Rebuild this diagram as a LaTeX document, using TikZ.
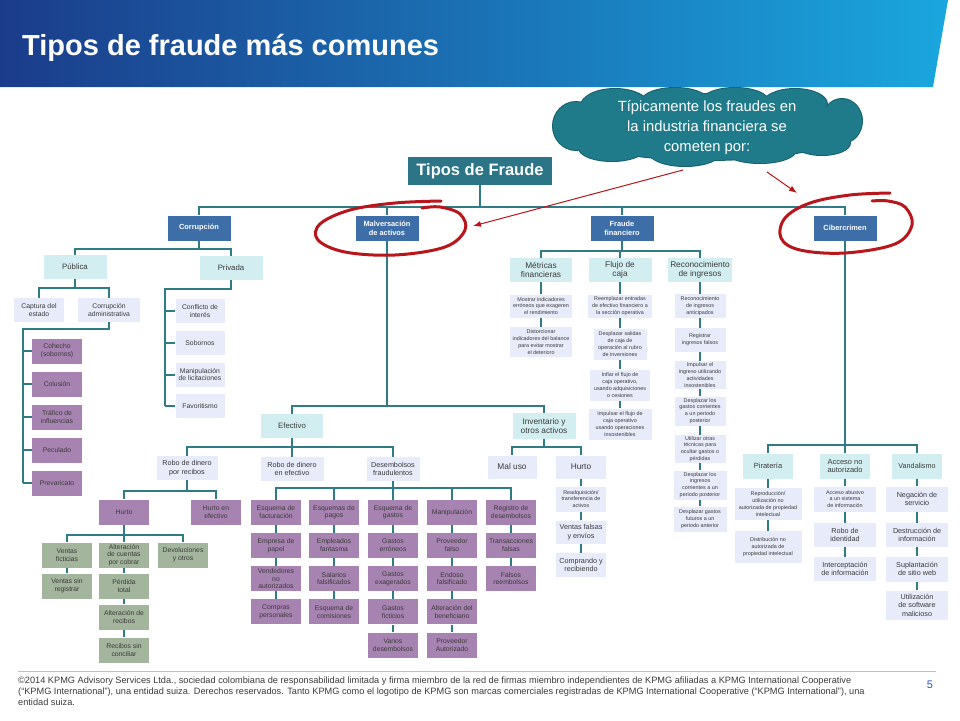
\documentclass[tikz,border=0pt]{standalone}
\usepackage{fontspec}
\setmainfont{Liberation Sans}
\usetikzlibrary{arrows.meta}
\definecolor{cNavy}{HTML}{1B3C8A}
\definecolor{cCielo}{HTML}{1AA6DE}
\definecolor{cRaiz}{HTML}{2B7587}
\definecolor{cAzul}{HTML}{3E6EA8}
\definecolor{cCeleste}{HTML}{D3EEF1}
\definecolor{cLila}{HTML}{E8EBFA}
\definecolor{cMorado}{HTML}{A783B1}
\definecolor{cVerde}{HTML}{A4B59D}
\definecolor{cLinea}{HTML}{2F7C86}
\definecolor{cTexto}{HTML}{3A3A3A}
\definecolor{cNube}{HTML}{1F7A8A}
\definecolor{cNubeBorde}{HTML}{17606D}
\definecolor{cRojo}{HTML}{B8161C}
\definecolor{cGris}{HTML}{C0C0C0}
\definecolor{cNumero}{HTML}{2450D8}

\begin{document}
\begin{tikzpicture}[x=1pt,y=-1pt,
  caja/.style={rectangle,align=center,inner sep=1pt,text=cTexto,font=\fontsize{6.8}{7.8}\selectfont},
  nivel/.style={caja,fill=cAzul,text=white,font=\bfseries\fontsize{7.4}{9}\selectfont,minimum width=63pt,minimum height=25pt},
  celeste/.style={caja,fill=cCeleste,minimum width=63pt,minimum height=24pt,font=\fontsize{7.8}{9}\selectfont},
  lila/.style={caja,fill=cLila,minimum width=50pt,minimum height=24pt},
  morado/.style={caja,fill=cMorado,minimum width=50pt,minimum height=25pt},
  verde/.style={caja,fill=cVerde,minimum width=50pt,minimum height=25pt},
  diminuto/.style={font=\fontsize{5.4}{6.9}\selectfont},
  medio/.style={font=\fontsize{7.2}{8.4}\selectfont},
  grande/.style={font=\fontsize{8.3}{9.6}\selectfont},
  enlace/.style={draw=cLinea,line width=1.8pt},
  flecha/.style={draw=cRojo,line width=1pt,-{Latex[length=8pt,width=6pt]}},
  anillo/.style={draw=cRojo,line width=3pt,line cap=round}]
\useasboundingbox (0,0) rectangle (960,720);
\shade[left color=cNavy,right color=cCielo] (0,0) -- (948,0) -- (933,87) -- (0,87) -- cycle;
\node[anchor=base west,inner sep=0pt,text=white,font=\bfseries\fontsize{29}{32}\selectfont] (titulo) at (22,55) {Tipos de fraude más comunes};

\foreach \cx/\cy/\rx/\ry in {707/127/145/33,576/126/23/24,842/121/20/22,615/106/34/17,675/101/33/13,735/101/33/13,795/104/32/15,612/148/33/13,685/152/36/14,760/150/36/13,822/143/28/12}
  \draw[cNubeBorde,line width=2pt] (\cx,\cy) ellipse[x radius=\rx pt,y radius=\ry pt];
\foreach \cx/\cy/\rx/\ry in {707/127/145/33,576/126/23/24,842/121/20/22,615/106/34/17,675/101/33/13,735/101/33/13,795/104/32/15,612/148/33/13,685/152/36/14,760/150/36/13,822/143/28/12}
  \fill[cNube] (\cx,\cy) ellipse[x radius=\rx pt,y radius=\ry pt];
\node[text=white,align=center,font=\fontsize{14.8}{20}\selectfont] (nota) at (707,128) {Típicamente los fraudes en\\la industria financiera se\\cometen por:};

\node[caja,fill=cRaiz,text=white,font=\bfseries\fontsize{16.5}{18}\selectfont,minimum width=144pt,minimum height=28pt] (raiz) at (480,171) {Tipos de Fraude};
\node[nivel] (corr) at (199,228) {Corrupción};
\node[nivel] (malv) at (387,228) {Malversación\\de activos};
\node[nivel] (ffin) at (622,228) {Fraude\\financiero};
\node[nivel] (ciber) at (845,228) {Cibercrimen};

\node[celeste] (pub) at (75,267) {Pública};
\node[celeste] (priv) at (231,268) {Privada};
\node[lila] (capt) at (39,310) {Captura del\\estado};
\node[lila,minimum width=62pt] (cadm) at (109,310) {Corrupción\\administrativa};
\foreach \t [count=\i] in {Cohecho\\(sobornos),Colusión,Tráfico de\\influencias,Peculado,Prevaricato}
  \node[morado] (pa\i) at (57,{318+33*\i}) {\t};
\foreach \t [count=\i] in {Conflicto de\\interés,Sobornos,Manipulación\\de licitaciones,Favoritismo}
  \node[lila,minimum width=49pt] (pr\i) at (200,{279.5+31.7*\i}) {\t};

\node[celeste,minimum width=62pt] (efec) at (292,426) {Efectivo};
\node[celeste,grande,minimum height=26pt] (inv) at (544,426) {Inventario y\\otros activos};
\node[lila,medio,minimum width=61pt] (rrec) at (187,468) {Robo de dinero\\por recibos};
\node[lila,medio,minimum width=63pt] (refe) at (292,469) {Robo de dinero\\en efectivo};
\node[lila,medio,minimum width=53pt] (dfra) at (393,469) {Desembolsos\\fraudulentos};
\node[morado] (hur) at (124,512) {Hurto};
\node[morado] (hef) at (216,512) {Hurto en\\efectivo};
\node[verde] (va1) at (67,555) {Ventas\\ficticias};
\node[verde] (va2) at (67,586) {Ventas sin\\registrar};
\node[verde] (vb1) at (124,555) {Alteración\\de cuentas\\por cobrar};
\node[verde] (vb2) at (124,586) {Pérdida\\total};
\node[verde] (vb3) at (124,617) {Alteración de\\recibos};
\node[verde] (vb4) at (124,650) {Recibos sin\\conciliar};
\node[verde] (vc1) at (183,555) {Devoluciones\\y otros};
\foreach \t [count=\i] in {Esquema de\\facturación,Empresa de\\papel,Vendedores\\no\\autorizados,Compras\\personales}
  \node[morado] (da\i) at (276,{479+33.2*\i}) {\t};
\foreach \t [count=\i] in {Esquemas de\\pagos,Empleados\\fantasma,Salarios\\falsificados,Esquema de\\comisiones}
  \node[morado] (db\i) at (334,{479+33.2*\i}) {\t};
\foreach \t [count=\i] in {Esquema de\\gastos,Gastos\\erróneos,Gastos\\exagerados,Gastos\\ficticios,Varios\\desembolsos}
  \node[morado] (dc\i) at (393,{479+33.2*\i}) {\t};
\foreach \t [count=\i] in {Manipulación,Proveedor\\falso,Endoso\\falsificado,Alteración del\\beneficiario,Proveedor\\Autorizado}
  \node[morado] (dd\i) at (452,{479+33.2*\i}) {\t};
\foreach \t [count=\i] in {Registro de\\desembolsos,Transacciones\\falsas,Falsos\\reembolsos}
  \node[morado] (de\i) at (511,{479+33.2*\i}) {\t};
\node[lila,grande,minimum width=49pt,minimum height=23pt] (mal) at (512,467) {Mal uso};
\node[lila,grande,minimum height=23pt] (ihur) at (581,467) {Hurto};
\node[lila,diminuto,minimum height=25pt] (ih1) at (581,499) {Readquisición/\\transferencia de\\activos};
\node[lila,medio,minimum height=23pt] (ih2) at (581,532) {Ventas falsas\\y envíos};
\node[lila,medio] (ih3) at (581,565) {Comprando y\\recibiendo};

\node[celeste,grande,minimum width=62pt] (met) at (541,270) {Métricas\\financieras};
\node[celeste,grande] (flu) at (620,270) {Flujo de\\caja};
\node[celeste,grande,minimum width=64pt] (rec) at (700,270) {Reconocimiento\\de ingresos};
\node[lila,diminuto,minimum width=62pt,minimum height=23pt] (m1) at (541,306) {Mostrar indicadores\\erróneos que exageren\\el rendimiento};
\node[lila,diminuto,minimum width=62pt,minimum height=30pt] (m2) at (541,342) {Distorcionar\\indicadores del balance\\para evitar mostrar\\el deterioro};
\node[lila,diminuto,minimum width=64pt,minimum height=23pt] (f1) at (620,306) {Reemplazar entradas\\de efectivo financiero a\\la sección operativa};
\node[lila,diminuto,minimum width=53pt,minimum height=31pt] (f2) at (620,344) {Desplazar salidas\\de caja de\\operación al rubro\\de inversiones};
\node[lila,diminuto,minimum width=60pt,minimum height=31pt] (f3) at (620,385) {Inflar el flujo de\\caja operativo,\\usando adquisiciones\\o cesiones};
\node[lila,diminuto,minimum width=63pt,minimum height=31pt] (f4) at (620,424) {Impulsar el flujo de\\caja operativo\\usando operaciones\\insostenibles};
\node[lila,diminuto,minimum width=51pt] (r1) at (700,306) {Reconocimiento\\de ingresos\\anticipados};
\node[lila,diminuto,minimum width=51pt] (r2) at (700,340) {Registrar\\ingresos falsos};
\node[lila,diminuto,minimum width=51pt,minimum height=28pt] (r3) at (700,375) {Impulsar el\\ingreso utilizando\\actividades\\insostenibles};
\node[lila,diminuto,minimum width=51pt,minimum height=29pt] (r4) at (700,411) {Desplazar los\\gastos corrientes\\a un periodo\\posterior};
\node[lila,diminuto,minimum width=51pt,minimum height=28pt] (r5) at (700,449) {Utilizar otras\\técnicas para\\ocultar gastos o\\pérdidas};
\node[lila,diminuto,minimum width=53pt,minimum height=29pt] (r6) at (700,485) {Desplazar los\\ingresos\\corrientes a un\\periodo posterior};
\node[lila,diminuto,minimum width=53pt,minimum height=25pt] (r7) at (700,519) {Desplazar gastos\\futuros a un\\periodo anterior};

\node[celeste,minimum width=50pt,minimum height=25pt,font=\fontsize{7.5}{8.8}\selectfont] (pir) at (768,466) {Piratería};
\node[celeste,minimum width=50pt,minimum height=25pt,font=\fontsize{7.5}{8.8}\selectfont] (acc) at (845,466) {Acceso no\\autorizado};
\node[celeste,minimum width=50pt,minimum height=25pt,font=\fontsize{7.2}{8.8}\selectfont] (van) at (917,466) {Vandalismo};
\node[lila,diminuto,minimum width=67pt,minimum height=32pt] (p1) at (768,504) {Reproducción/\\utilización no\\autorizada de propiedad\\intelectual};
\node[lila,diminuto,minimum width=67pt,minimum height=32pt] (p2) at (768,547) {Distribución no\\autorizada de\\propiedad intelectual};
\node[lila,diminuto,minimum width=62pt,minimum height=25pt] (a1) at (845,499) {Acceso abusivo\\a un sistema\\de información};
\node[lila,medio,minimum width=62pt] (a2) at (845,535) {Robo de\\identidad};
\node[lila,medio,minimum width=62pt] (a3) at (845,569) {Interceptación\\de información};
\node[lila,medio,minimum width=62pt,minimum height=25pt] (v1) at (917,499) {Negación de\\servicio};
\node[lila,medio,minimum width=62pt] (v2) at (917,535) {Destrucción de\\información};
\node[lila,medio,minimum width=62pt,minimum height=25pt] (v3) at (917,569) {Suplantación\\de sitio web};
\node[lila,medio,minimum width=62pt,minimum height=29pt] (v4) at (917,605) {Utilización\\de software\\malicioso};

\draw[enlace] (raiz.south) -- ++(0,22) coordinate (b0);
\foreach \c in {corr,malv,ffin,ciber} \draw[enlace] (b0) -| (\c.north);
\draw[enlace] (corr.south) -- ++(0,8) coordinate (b1);
\foreach \c in {pub,priv} \draw[enlace] (b1) -| (\c.north);
\draw[enlace] (pub.south) -- ++(0,9) coordinate (b2);
\foreach \c in {capt,cadm} \draw[enlace] (b2) -| (\c.north);
\coordinate (espA) at (23,329);
\draw[enlace] (cadm.south) |- (espA) -- (espA |- pa5.west);
\foreach \i in {1,...,5} \draw[enlace] (espA |- pa\i.west) -- (pa\i.west);
\coordinate (espB) at (165,289);
\draw[enlace] (priv.south) |- (espB) -- (espB |- pr4.west);
\foreach \i in {1,...,4} \draw[enlace] (espB |- pr\i.west) -- (pr\i.west);
\draw[enlace] (malv.south) -- ++(0,165) coordinate (b3);
\foreach \c in {efec,inv} \draw[enlace] (b3) -| (\c.north);
\draw[enlace] (efec.south) -- ++(0,9) coordinate (b4);
\foreach \c in {rrec,refe,dfra} \draw[enlace] (b4) -| (\c.north);
\draw[enlace] (rrec.south) -- ++(0,11) coordinate (b5);
\foreach \c in {hur,hef} \draw[enlace] (b5) -| (\c.north);
\draw[enlace] (hur.south) -- ++(0,10) coordinate (b6);
\foreach \c in {va1,vb1,vc1} \draw[enlace] (b6) -| (\c.north);
\draw[enlace] (dfra.south) -- ++(0,7) coordinate (b7);
\foreach \c in {da1,db1,dc1,dd1,de1} \draw[enlace] (b7) -| (\c.north);
\draw[enlace] (inv.south) -- ++(0,8) coordinate (b8);
\foreach \c in {mal,ihur} \draw[enlace] (b8) -| (\c.north);
\draw[enlace] (ffin.south) -- ++(0,10) coordinate (b9);
\foreach \c in {met,flu,rec} \draw[enlace] (b9) -| (\c.north);
\draw[enlace] (ciber.south) -- ++(0,204) coordinate (b10);
\foreach \c in {pir,acc,van} \draw[enlace] (b10) -| (\c.north);
\foreach \a/\b in {va1/va2,vb1/vb2,vb2/vb3,vb3/vb4,da1/da2,da2/da3,da3/da4,db1/db2,db2/db3,db3/db4,
  dc1/dc2,dc2/dc3,dc3/dc4,dc4/dc5,dd1/dd2,dd2/dd3,dd3/dd4,dd4/dd5,de1/de2,de2/de3,ihur/ih1,ih1/ih2,ih2/ih3,
  met/m1,m1/m2,flu/f1,f1/f2,f2/f3,f3/f4,rec/r1,r1/r2,r2/r3,r3/r4,r4/r5,r5/r6,r6/r7,
  pir/p1,p1/p2,acc/a1,a1/a2,a2/a3,van/v1,v1/v2,v2/v3,v3/v4}
  \draw[enlace] (\a.south) -- (\b.north);

\coordinate (n1) at (683,170);
\coordinate (n2) at (767,172);
\coordinate (o1) at (473,226);
\coordinate (o2) at (797,193);
\draw[flecha] (n1) -- (o1);
\draw[flecha] (n2) -- (o2);
\draw[anillo] plot[smooth,tension=0.6] coordinates {(441,201) (395,203) (350,210) (320,224) (318,240) (345,252) (395,255) (445,247) (465,230) (460,214) (440,207) (422,208)};
\draw[anillo] plot[smooth,tension=0.6] coordinates {(890,193) (850,195) (810,203) (785,218) (781,238) (800,250) (845,253) (895,244) (912,225) (905,207) (888,201) (872,201)};

\draw[cGris,line width=1pt] (18,671) -- (936,671);
\node[anchor=north west,align=left,inner sep=0pt,text=cTexto,font=\fontsize{9.2}{11}\selectfont] (pie) at (18,677) {©2014 KPMG Advisory Services Ltda., sociedad colombiana de responsabilidad limitada y firma miembro de la red de firmas miembro independientes de KPMG afiliadas a KPMG International Cooperative\\(“KPMG International”), una entidad suiza. Derechos reservados. Tanto KPMG como el logotipo de KPMG son marcas comerciales registradas de KPMG International Cooperative (“KPMG International”), una\\entidad suiza.};
\node[anchor=base,text=cNumero,font=\fontsize{11}{13}\selectfont] (pagina) at (930,688) {5};
\end{tikzpicture}
\end{document}
